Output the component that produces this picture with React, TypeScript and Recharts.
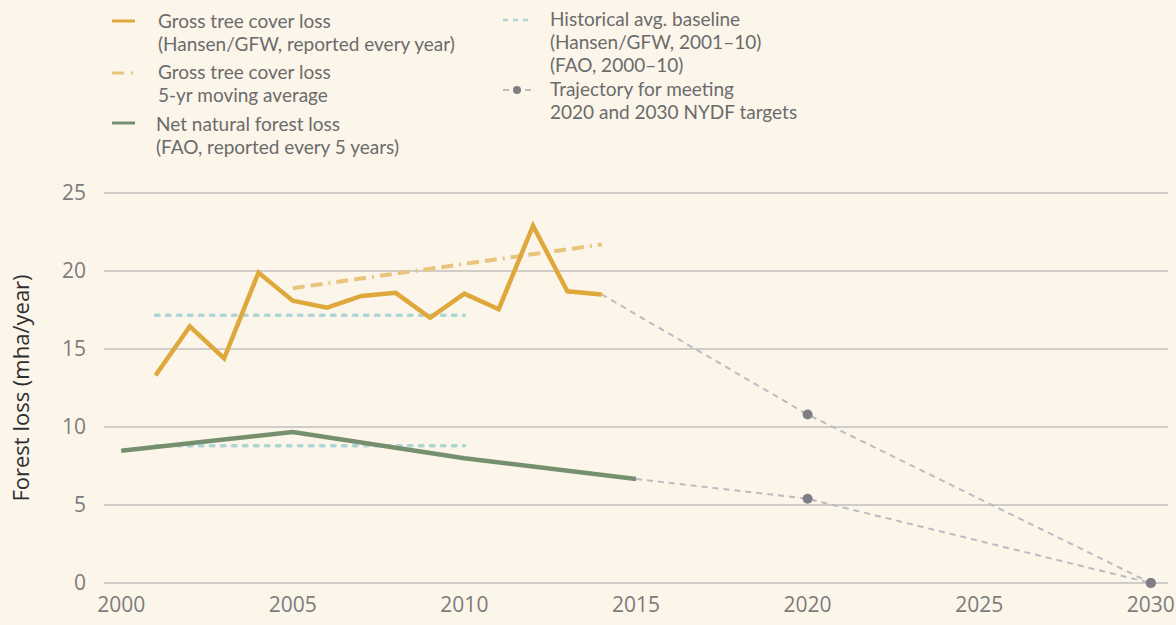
import React from 'react';
import { LineChart, Line, XAxis, YAxis, CartesianGrid } from 'recharts';

// gross tree cover loss (Hansen/GFW), mha/year
const grossYears = [2001, 2002, 2003, 2004, 2005, 2006, 2007, 2008, 2009, 2010, 2011, 2012, 2013, 2014];
const grossValues = [13.3, 16.45, 14.4, 19.9, 18.1, 17.65, 18.4, 18.6, 17.0, 18.55, 17.55, 22.9, 18.7, 18.5];

// 5-yr moving average
const avgYears = [2005, 2014];
const avgValues = [18.9, 21.7];

// net natural forest loss (FAO)
const netYears = [2000, 2005, 2010, 2015];
const netValues = [8.48, 9.68, 8.0, 6.67];

// historical baselines
const grossBaseYears = [2001, 2010];
const grossBaseValues = [17.16, 17.16];
const netBaseYears = [2001, 2010];
const netBaseValues = [8.8, 8.8];

// NYDF trajectories
const trajGrossYears = [2014, 2020, 2030];
const trajGrossValues = [18.5, 10.8, 0];
const trajNetYears = [2015, 2020, 2030];
const trajNetValues = [6.67, 5.4, 0];

const xTicks = [2000, 2005, 2010, 2015, 2020, 2025, 2030];
const yTicks = [0, 5, 10, 15, 20, 25];

const zip = (years: number[], values: number[]) => years.map((year, i) => ({ year, v: values[i] }));

const grossData = zip(grossYears, grossValues);
const avgData = zip(avgYears, avgValues);
const netData = zip(netYears, netValues);
const grossBase = zip(grossBaseYears, grossBaseValues);
const netBase = zip(netBaseYears, netBaseValues);
const trajGross = zip(trajGrossYears, trajGrossValues);
const trajNet = zip(trajNetYears, trajNetValues);

const BG = '#fcf5ea';
const GOLD = '#dea83b';
const GOLD_LIGHT = '#e9c47c';
const GREEN = '#76906f';
const TEAL = '#acd5d6';
const GREY_DASH = '#bcbcc0';
const GREY_DOT = '#7e7e85';
const TEXT = '#6b6b6b';

const trajDot = (props: any) => {
  const { cx, cy, payload, index } = props;
  if (payload.year < 2020) return <g key={`d${index}`} />;
  return <circle key={`d${index}`} cx={cx} cy={cy} r={5} fill={GREY_DOT} />;
};

const legendText: React.CSSProperties = {
  position: 'absolute',
  fontFamily: 'Lato, sans-serif',
  fontSize: 19,
  lineHeight: '23px',
  color: TEXT,
  whiteSpace: 'nowrap',
};

const Legend = () => (
  <>
    <svg width={1176} height={170} style={{ position: 'absolute', left: 0, top: 0 }}>
      <line x1={112} x2={135} y1={21} y2={21} stroke={GOLD} strokeWidth={3} />
      <line x1={112} x2={124} y1={73} y2={73} stroke={GOLD_LIGHT} strokeWidth={3} />
      <line x1={131} x2={133} y1={73} y2={73} stroke={GOLD_LIGHT} strokeWidth={3} />
      <line x1={112} x2={135} y1={123} y2={123} stroke={GREEN} strokeWidth={3} />
      <line x1={503} x2={531} y1={20} y2={20} stroke={TEAL} strokeWidth={2.5} strokeDasharray="5 5" />
      <line x1={503} x2={509} y1={90} y2={90} stroke={GREY_DASH} strokeWidth={2} />
      <circle cx={517} cy={90} r={4} fill={GREY_DOT} />
      <line x1={525} x2={531} y1={90} y2={90} stroke={GREY_DASH} strokeWidth={2} />
    </svg>
    <div style={{ ...legendText, left: 158, top: 9 }}>
      Gross tree cover loss<br />(Hansen/GFW, reported every year)
    </div>
    <div style={{ ...legendText, left: 158, top: 60 }}>
      Gross tree cover loss<br />5-yr moving average
    </div>
    <div style={{ ...legendText, left: 156, top: 112 }}>
      Net natural forest loss<br />(FAO, reported every 5 years)
    </div>
    <div style={{ ...legendText, left: 550, top: 7 }}>
      Historical avg. baseline<br />(Hansen/GFW, 2001–10)<br />(FAO, 2000–10)
    </div>
    <div style={{ ...legendText, left: 550, top: 77 }}>
      Trajectory for meeting<br />2020 and 2030 NYDF targets
    </div>
  </>
);

const YLabel = (props: any) => {
  const { viewBox } = props;
  const x = viewBox.x + 20;
  const y = viewBox.y + viewBox.height / 2;
  return (
    <text
      x={x}
      y={y}
      transform={`rotate(-90 ${x} ${y})`}
      textAnchor="middle"
      dominantBaseline="central"
      fill="#2f2f2f"
      fontSize={22}
      fontFamily='"Open Sans", sans-serif'
    >
      Forest loss (mha/year)
    </text>
  );
};

export default function App() {
  const tickStyle = { fill: '#7c7c7c', fontSize: 21, fontFamily: '"Open Sans", sans-serif' };
  return (
    <div style={{ position: 'absolute', left: 0, top: 0, width: 1176, height: 625, background: BG, overflow: 'hidden' }}>
      <Legend />
      <div style={{ position: 'absolute', left: 0, top: 0 }}>
        <LineChart width={1176} height={625} margin={{ top: 193, right: 8, left: 0, bottom: 0 }}>
          <CartesianGrid vertical={false} stroke="#a3a3a3" strokeWidth={1.1} />
          <XAxis
            type="number"
            dataKey="year"
            domain={[1999.5, 2030.5]}
            ticks={xTicks}
            allowDuplicatedCategory={false}
            axisLine={false}
            tickLine={false}
            tickMargin={8}
            height={42}
            tick={tickStyle}
            interval={0}
          />
          <YAxis
            type="number"
            domain={[0, 25]}
            ticks={yTicks}
            axisLine={false}
            tickLine={false}
            tickMargin={12}
            width={104}
            tick={tickStyle}
            label={{ content: YLabel }}
          />
          <Line data={trajGross} dataKey="v" stroke={GREY_DASH} strokeWidth={2} strokeDasharray="6 5" dot={trajDot} isAnimationActive={false} />
          <Line data={trajNet} dataKey="v" stroke={GREY_DASH} strokeWidth={2} strokeDasharray="6 5" dot={trajDot} isAnimationActive={false} />
          <Line data={grossBase} dataKey="v" stroke={TEAL} strokeWidth={3.5} strokeDasharray="3.5 7.5" strokeLinecap="round" dot={false} isAnimationActive={false} />
          <Line data={netBase} dataKey="v" stroke={TEAL} strokeWidth={3.5} strokeDasharray="3.5 7.5" strokeLinecap="round" dot={false} isAnimationActive={false} />
          <Line data={avgData} dataKey="v" stroke={GOLD_LIGHT} strokeWidth={4} strokeDasharray="12 6 12 6 2 6" dot={false} isAnimationActive={false} />
          <Line data={netData} dataKey="v" stroke={GREEN} strokeWidth={4.5} dot={false} isAnimationActive={false} />
          <Line data={grossData} dataKey="v" stroke={GOLD} strokeWidth={4.5} strokeLinejoin="miter" dot={false} isAnimationActive={false} />
        </LineChart>
      </div>
    </div>
  );
}
